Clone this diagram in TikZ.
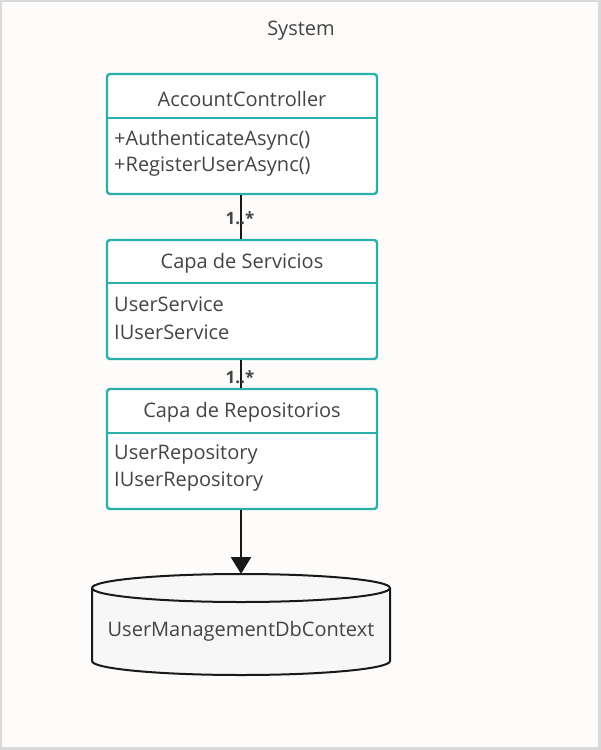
\documentclass[tikz,border=0pt]{standalone}
\usepackage{fontspec}
\setmainfont{Open Sans}
\usetikzlibrary{arrows.meta}
\definecolor{teal1}{HTML}{2AAFAA}
\definecolor{txt}{HTML}{444444}
\definecolor{bg}{HTML}{FDFCFA}
\definecolor{frame}{HTML}{D9D9D9}
\definecolor{dbfill}{HTML}{F7F7F7}
\begin{document}
\begin{tikzpicture}[x=1pt,y=-1pt,
  cls/.style={draw=teal1,line width=2.4pt,rounded corners=3pt,fill=white},
  sep/.style={draw=teal1,line width=2.4pt},
  ttl/.style={text=txt,font=\fontsize{20}{24}\selectfont,inner sep=0pt},
  mem/.style={text=txt,font=\fontsize{20}{24}\selectfont,inner sep=0pt,anchor=west},
  mult/.style={text=txt,font=\bfseries\fontsize{17}{20}\selectfont,inner sep=0pt},
  conn/.style={draw=black!90,line width=2.6pt}]
\useasboundingbox (0,0) rectangle (601,750);
\fill[frame] (0,0) rectangle (601,750);
\fill[bg] (2,2) rectangle (598,747);
% box 1
\node[cls,minimum width=270pt,minimum height=120pt,inner sep=0pt] (b1) at (242,134) {};
\draw[sep] (107,118) -- (377,118);
\node[ttl] (t1) at (242,99) {AccountController};
\node[mem] (m1a) at (114,140) {+AuthenticateAsync()};
\node[mem] (m1b) at (114,167) {+RegisterUserAsync()};
% box 2
\node[cls,minimum width=270pt,minimum height=119pt,inner sep=0pt] (b2) at (242,299.5) {};
\draw[sep] (107,283) -- (377,283);
\node[ttl] (t2) at (242,263) {Capa de Servicios};
\node[mem] (m2a) at (114,304) {UserService};
\node[mem] (m2b) at (114,332) {IUserService};
% box 3
\node[cls,minimum width=270pt,minimum height=120pt,inner sep=0pt] (b3) at (242,449) {};
\draw[sep] (107,433) -- (377,433);
\node[ttl] (t3) at (242,412) {Capa de Repositorios};
\node[mem] (m3a) at (114,455) {UserRepository};
\node[mem] (m3b) at (114,482) {IUserRepository};
% system label
\node[ttl] (sys) at (301,31) {System};
% cylinder
\coordinate (dbtop) at (241,574);
\filldraw[draw=black!90,fill=dbfill,line width=2pt]
  (92,588) -- (92,661) arc[start angle=180,end angle=0,x radius=149,y radius=14]
  -- (390,588) arc[start angle=0,end angle=-180,x radius=149,y radius=14] -- cycle;
\draw[draw=black!90,line width=2pt] (92,588) arc[start angle=180,end angle=0,x radius=149,y radius=14];
\node[ttl] (db) at (241,631) {UserManagementDbContext};
% connectors
\draw[conn] (b1.south -| 241,0) -- (b2.north -| 241,0);
\node[mult] (l1) at (240,218) {1..*};
\draw[conn] (b2.south -| 241,0) -- (b3.north -| 241,0);
\node[mult] (l2) at (240,377) {1..*};
\draw[conn,-{Triangle[length=17pt,width=20pt]}] (b3.south -| 241,0) -- (dbtop);
\end{tikzpicture}
\end{document}
